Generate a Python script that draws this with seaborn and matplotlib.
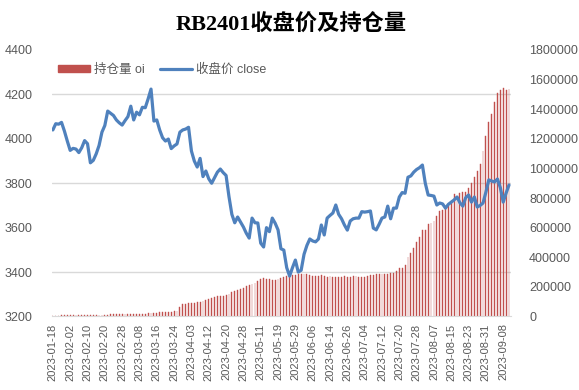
import numpy as np
import pandas as pd
import seaborn as sns
import matplotlib.pyplot as plt
from matplotlib.patches import Patch
from matplotlib.lines import Line2D

# trading days (SHFE calendar, holidays removed)
holidays = ["2023-01-23", "2023-01-24", "2023-01-25", "2023-01-26", "2023-01-27",
            "2023-04-05", "2023-05-01", "2023-05-02", "2023-05-03",
            "2023-06-22", "2023-06-23"]
days = pd.bdate_range("2023-01-18", "2023-09-12")
days = days[~days.isin(pd.to_datetime(holidays))]
dates = [d.strftime("%Y-%m-%d") for d in days]

# closing price
close = [4040, 4068, 4066, 4074, 4035, 3990, 3948, 3957, 3954, 3938,
         3960, 3992, 3978, 3892, 3903, 3932, 3970, 4030, 4060, 4125,
         4115, 4105, 4085, 4072, 4062, 4082, 4100, 4147, 4085, 4120,
         4108, 4142, 4140, 4180, 4224, 4080, 4085, 4040, 4005, 3990,
         3999, 3956, 3968, 3977, 4030, 4040, 4044, 4052, 3945, 3900,
         3873, 3912, 3830, 3855, 3820, 3800, 3825, 3850, 3864, 3848,
         3835, 3740, 3660, 3622, 3648, 3625, 3603, 3575, 3553, 3643,
         3622, 3621, 3530, 3513, 3600, 3582, 3643, 3620, 3590, 3505,
         3499, 3420, 3382, 3420, 3454, 3400, 3408, 3480, 3520, 3549,
         3540, 3536, 3549, 3612, 3567, 3643, 3655, 3666, 3702, 3660,
         3640, 3612, 3589, 3630, 3640, 3643, 3643, 3672, 3670, 3672,
         3675, 3598, 3590, 3615, 3643, 3648, 3697, 3640, 3688, 3688,
         3738, 3758, 3755, 3827, 3833, 3850, 3862, 3870, 3882, 3800,
         3747, 3745, 3742, 3702, 3711, 3707, 3688, 3705, 3715, 3725,
         3738, 3712, 3697, 3735, 3747, 3715, 3738, 3693, 3700, 3711,
         3760, 3815, 3810, 3806, 3819, 3780, 3715, 3756, 3792]

# open interest
oi = [5000, 6000, 6000, 7000, 7000, 8000, 8000, 8000, 9000, 9000,
      9000, 9000, 10000, 10000, 10000, 10000, 10000, 11000, 13000, 13000,
      14000, 14000, 14000, 15000, 15000, 18000, 18000, 18000, 19000, 19000,
      19000, 20000, 20000, 21000, 21000, 22000, 25000, 27000, 27000, 27000,
      28000, 28000, 34000, 40000, 61000, 81000, 81000, 88000, 92000, 92000,
      99000, 99000, 106000, 113000, 119000, 126000, 133000, 140000, 140000, 140000,
      146000, 153000, 167000, 174000, 180000, 187000, 194000, 207000, 214000, 221000,
      227000, 241000, 255000, 261000, 255000, 255000, 248000, 248000, 255000, 262000,
      265000, 275000, 270000, 280000, 283000, 285000, 284000, 288000, 285000, 278000,
      275000, 276000, 274000, 280000, 276000, 270000, 272000, 270000, 270000, 268000,
      270000, 272000, 268000, 270000, 274000, 272000, 270000, 265000, 268000, 272000,
      278000, 280000, 285000, 290000, 288000, 285000, 286000, 293000, 295000, 304000,
      327000, 328000, 349000, 405000, 430000, 462000, 502000, 540000, 585000, 585000,
      624000, 630000, 646000, 680000, 714000, 720000, 732000, 748000, 777000, 826000,
      810000, 833000, 842000, 842000, 867000, 901000, 939000, 986000, 1031000, 1121000,
      1220000, 1315000, 1369000, 1452000, 1509000, 1531000, 1543000, 1531000, 1538000]

df = pd.DataFrame({"date": dates, "pos": np.arange(len(dates)), "close": close, "oi": oi})

sns.set_style("white")
plt.rcParams["font.family"] = ["Liberation Sans", "Noto Sans CJK SC"]

bar_color = "#C0504D"
line_color = "#4F81BD"
txt = "#595959"

fig = plt.figure(figsize=(5.79, 3.9), dpi=100)
ax = fig.add_axes([0.0898, 0.1885, 0.7928, 0.6833])

# bars: open interest on the right scale (drawn first, behind)
sns.barplot(data=df, x="pos", y="oi", ax=ax, color=bar_color, saturation=1,
            width=0.3, native_scale=True, edgecolor=bar_color, linewidth=0.3)
ax.set_xlabel("")
ax.set_ylabel("")

# line: close price on the left scale
ax2 = ax.twinx()
sns.lineplot(data=df, x="pos", y="close", ax=ax2, color=line_color, lw=2.3)
ax2.set_ylim(3200, 4400)
ax2.set_yticks(np.arange(3200, 4401, 200))
ax2.yaxis.tick_left()
ax2.tick_params(axis="y", length=0, pad=14, labelsize=9, labelcolor=txt)
ax2.set_ylabel("")
ax2.set_xlabel("")

ax.set_ylim(0, 1800000)
ax.set_yticks(np.arange(0, 1800001, 200000))
ax.ticklabel_format(axis="y", style="plain", useOffset=False)
ax.yaxis.tick_right()
ax.set_yticks(np.arange(0, 1800001, 300000), minor=True)
ax.grid(axis="y", which="minor", color="#D9D9D9", lw=1)
ax.grid(axis="y", which="major", visible=False)
ax.set_axisbelow(True)
ax.tick_params(axis="y", which="major", length=0, pad=13, labelsize=9, labelcolor=txt)
ax.tick_params(axis="y", which="minor", length=0)

ax.set_xlim(-0.3, len(dates) - 0.3)
ax.set_xticks(np.arange(0, len(dates), 6))
ax.set_xticklabels(dates[::6], rotation=90)
ax.set_xticks(np.arange(len(dates)), minor=True)
ax.tick_params(axis="x", which="major", length=3, color="#D9D9D9", labelsize=8,
               labelcolor=txt, pad=2)
ax.tick_params(axis="x", which="minor", length=3, color="#D9D9D9")

for a in (ax, ax2):
    for s in a.spines.values():
        s.set_visible(False)
ax.spines["bottom"].set_visible(True)
ax.spines["bottom"].set_color("#D9D9D9")

handles = [Patch(color=bar_color), Line2D([0], [0], color=line_color, lw=2.3)]
ax2.legend(handles, ["持仓量 oi", "收盘价 close"], loc="center",
           bbox_to_anchor=(0.24, 0.925), ncol=2, frameon=False, fontsize=9,
           handlelength=2.6, handleheight=0.55, columnspacing=1.2, handletextpad=0.3,
           labelcolor=txt)

fig.text(0.503, 0.936, "RB2401收盘价及持仓量", ha="center", va="center",
         fontsize=16, fontweight="bold", color="black",
         family=["Liberation Serif", "Noto Sans CJK SC"])

fig.savefig("out.png", dpi=100, facecolor="white")
